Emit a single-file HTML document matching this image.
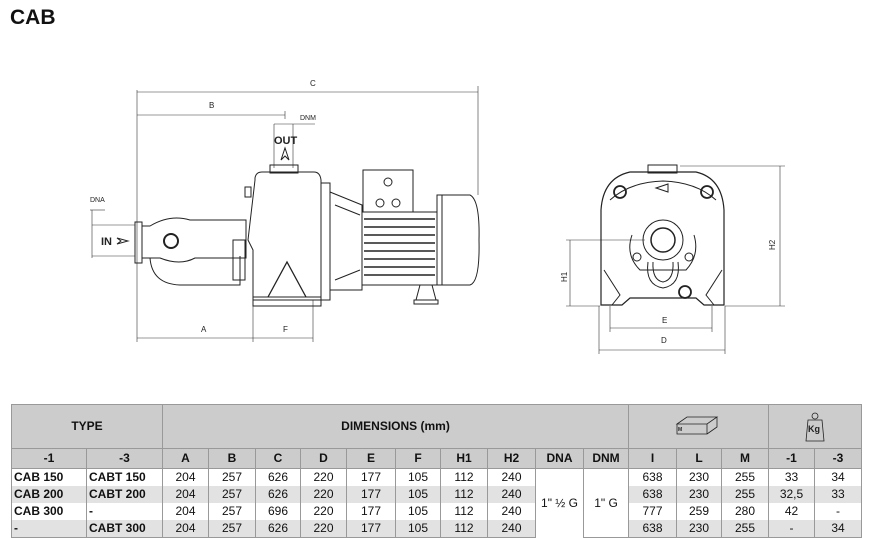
<!DOCTYPE html>
<html><head><meta charset="utf-8"><style>
body{margin:0;width:871px;height:538px;background:#fff;position:relative;overflow:hidden;font-family:"Liberation Sans",sans-serif;}
.t{position:absolute;left:10px;top:6px;font-weight:bold;font-size:21px;color:#111;}
svg{position:absolute;left:0;top:0}
table{position:absolute;left:11px;top:404px;border-collapse:collapse;font-size:12px;color:#111;table-layout:fixed;width:850px}
td{border:1px solid #999;border-top:none;border-bottom:none;text-align:center;padding:0;height:17px;line-height:17px;overflow:hidden;white-space:nowrap}
tr.h td{background:#ccc;height:43px;border-top:1px solid #999;border-bottom:1px solid #999;font-weight:bold}
tr.s td{background:#ccc;font-weight:bold;height:19px;border-bottom:1px solid #999}
tr.g td{background:#e2e2e2}
td.l{text-align:left;font-weight:bold;padding-left:2px}
td.w{background:#fff!important}
tr.last td{border-bottom:1px solid #999}
</style></head><body>
<div class="t">CAB</div>
<svg width="871" height="400" viewBox="0 0 871 400" fill="none" stroke="#222" stroke-width="1" font-family="Liberation Sans" font-size="8">
<g stroke-width="0.6" stroke="#333">
<line x1="137" y1="90" x2="137" y2="342"/><line x1="478" y1="86" x2="478" y2="195"/>
<line x1="137" y1="92" x2="478" y2="92"/><line x1="137" y1="115" x2="285" y2="115"/><line x1="285" y1="111" x2="285" y2="119"/>
<line x1="274" y1="124" x2="293" y2="124"/><line x1="274" y1="124" x2="274" y2="168"/><line x1="293" y1="124" x2="293" y2="168"/><line x1="293" y1="124" x2="315" y2="124"/>
<line x1="253" y1="300" x2="253" y2="342"/><line x1="313" y1="300" x2="313" y2="342"/>
<line x1="137" y1="338" x2="313" y2="338"/>
<line x1="90" y1="210" x2="105" y2="210"/><line x1="92" y1="210" x2="92" y2="258"/><line x1="92" y1="225" x2="135" y2="225"/><line x1="92" y1="256" x2="135" y2="256"/>
</g>
<g fill="#222" stroke="none">
<text x="310" y="86">C</text><text x="209" y="108">B</text><text x="300" y="120" font-size="7">DNM</text><text x="90" y="202" font-size="7">DNA</text>
<text x="201" y="332">A</text><text x="283" y="332">F</text>
<text x="274" y="144" font-size="11" font-weight="bold">OUT</text>
<text x="101" y="245" font-size="11" font-weight="bold">IN</text>
<text x="662" y="323">E</text><text x="661" y="343">D</text>
<text transform="translate(567,282) rotate(-90)">H1</text><text transform="translate(775,250) rotate(-90)">H2</text>
</g>
<path d="M281 160 L285 148 L289 160 L285 156Z"/><path d="M117 238 L128 241 L117 244 L121 241Z"/>
<rect x="135" y="222" width="7" height="41"/>
<path d="M142 226 L150 226 Q170 214 190 220 L246 220 L246 258 L195 258 Q180 266 160 258 L142 258Z"/>
<circle cx="171" cy="241" r="7" stroke-width="2"/>
<path d="M150 258 Q152 284 180 285 L240 285 L240 256"/>
<path d="M233 240 L245 240 L245 280 L233 280Z"/>
<path d="M255 178 Q256 172 262 172 L314 172 Q320 172 321 180 L321 300 L253 300 L253 250 L248 240 L255 180Z"/>
<rect x="253" y="297" width="68" height="9"/>
<path d="M268 297 L287 262 L306 297" stroke-width="1.3"/>
<rect x="270" y="165" width="28" height="8"/>
<rect x="245" y="187" width="6" height="10"/>
<rect x="321" y="183" width="9" height="117"/>
<path d="M330 192 L362 205 L362 290 L330 290Z"/>
<path d="M335 205 L360 215 M335 280 L360 270"/>
<rect x="363" y="170" width="50" height="42"/>
<circle cx="388" cy="182" r="4"/><circle cx="380" cy="203" r="4"/><circle cx="396" cy="203" r="4"/>
<rect x="362" y="212" width="75" height="73"/>
<g stroke-width="1.6"><line x1="364" y1="219" x2="435" y2="219"/><line x1="364" y1="227" x2="435" y2="227"/><line x1="364" y1="235" x2="435" y2="235"/><line x1="364" y1="243" x2="435" y2="243"/><line x1="364" y1="251" x2="435" y2="251"/><line x1="364" y1="259" x2="435" y2="259"/><line x1="364" y1="267" x2="435" y2="267"/><line x1="364" y1="275" x2="435" y2="275"/></g>
<rect x="437" y="195" width="5" height="90"/>
<path d="M442 195 L470 195 Q480 200 479 240 Q480 282 470 285 L442 285"/>
<path d="M420 285 L416 300 L436 300 L432 285" /><rect x="414" y="300" width="24" height="4"/>
<g stroke-width="0.6" stroke="#333">
<line x1="680" y1="166" x2="785" y2="166"/><line x1="725" y1="306" x2="785" y2="306"/><line x1="780" y1="166" x2="780" y2="306"/>
<line x1="566" y1="240" x2="645" y2="240"/><line x1="566" y1="306" x2="600" y2="306"/><line x1="570" y1="240" x2="570" y2="306"/>
<line x1="610" y1="306" x2="610" y2="332"/><line x1="712" y1="306" x2="712" y2="332"/><line x1="610" y1="328" x2="712" y2="328"/>
<line x1="599" y1="306" x2="599" y2="354"/><line x1="725" y1="306" x2="725" y2="354"/><line x1="599" y1="350" x2="725" y2="350"/>
</g>
<path d="M601 305 L601 210 Q603 178 630 172 L696 172 Q722 178 724 210 L724 305 L704 305 L696 298 L630 298 L622 305Z" stroke-width="1.2"/>
<path d="M610 200 Q630 182 663 181 Q696 182 716 200"/>
<rect x="648" y="165" width="29" height="8"/>
<circle cx="620" cy="192" r="6" stroke-width="1.8"/><circle cx="707" cy="192" r="6" stroke-width="1.8"/><circle cx="685" cy="292" r="6" stroke-width="1.8"/>
<circle cx="663" cy="240" r="20"/><circle cx="663" cy="240" r="12" stroke-width="1.5"/>
<path d="M648 262 Q645 285 663 288 Q681 285 678 262"/><path d="M653 262 Q652 280 663 282 Q674 280 673 262"/>
<circle cx="637" cy="257" r="4"/><circle cx="689" cy="257" r="4"/>
<path d="M632 235 Q625 255 640 270 L686 270 Q700 255 694 235"/>
<path d="M656 188 L668 184 L668 192Z"/>
<path d="M604 270 L620 295 L612 305 M722 270 L706 295 L714 305"/>
</svg>
<table>
<colgroup><col style="width:75px"><col style="width:76px"><col style="width:46px"><col style="width:47px"><col style="width:45px"><col style="width:46px"><col style="width:49px"><col style="width:45px"><col style="width:47px"><col style="width:48px"><col style="width:48px"><col style="width:45px"><col style="width:48px"><col style="width:45px"><col style="width:47px"><col style="width:46px"><col style="width:47px"></colgroup>
<tr class="h"><td colspan="2">TYPE</td><td colspan="10">DIMENSIONS (mm)</td><td colspan="3"><svg width="50" height="30" viewBox="0 0 50 30" style="position:static;vertical-align:middle" fill="none" stroke="#222" stroke-width="0.8"><path d="M3 12 L13 5 L43 5 L33 12Z M3 12 L3 22 L33 22 L33 12 M33 22 L43 15 L43 5"/><text x="4" y="19" font-size="5" fill="#222" stroke="none">M</text></svg></td><td colspan="2"><svg width="22" height="32" viewBox="0 0 22 32" style="position:static;vertical-align:middle" fill="none" stroke="#222" stroke-width="0.8"><circle cx="11" cy="5" r="3"/><path d="M4 9 L18 9 L20 30 L2 30Z"/><text x="4" y="21" font-size="9" fill="#222" stroke="none">Kg</text></svg></td></tr>
<tr class="s"><td>-1</td><td>-3</td><td>A</td><td>B</td><td>C</td><td>D</td><td>E</td><td>F</td><td>H1</td><td>H2</td><td>DNA</td><td>DNM</td><td>I</td><td>L</td><td>M</td><td>-1</td><td>-3</td></tr>
<tr><td class="l">CAB 150</td><td class="l">CABT 150</td><td>204</td><td>257</td><td>626</td><td>220</td><td>177</td><td>105</td><td>112</td><td>240</td><td rowspan="4" class="w">1" ½ G</td><td rowspan="4" class="w" style="border-bottom:1px solid #999">1" G</td><td>638</td><td>230</td><td>255</td><td>33</td><td>34</td></tr>
<tr class="g"><td class="l">CAB 200</td><td class="l">CABT 200</td><td>204</td><td>257</td><td>626</td><td>220</td><td>177</td><td>105</td><td>112</td><td>240</td><td>638</td><td>230</td><td>255</td><td>32,5</td><td>33</td></tr>
<tr><td class="l">CAB 300</td><td class="l">-</td><td>204</td><td>257</td><td>696</td><td>220</td><td>177</td><td>105</td><td>112</td><td>240</td><td>777</td><td>259</td><td>280</td><td>42</td><td>-</td></tr>
<tr class="g last"><td class="l">-</td><td class="l">CABT 300</td><td>204</td><td>257</td><td>626</td><td>220</td><td>177</td><td>105</td><td>112</td><td>240</td><td>638</td><td>230</td><td>255</td><td>-</td><td>34</td></tr>
</table>
</body></html>
